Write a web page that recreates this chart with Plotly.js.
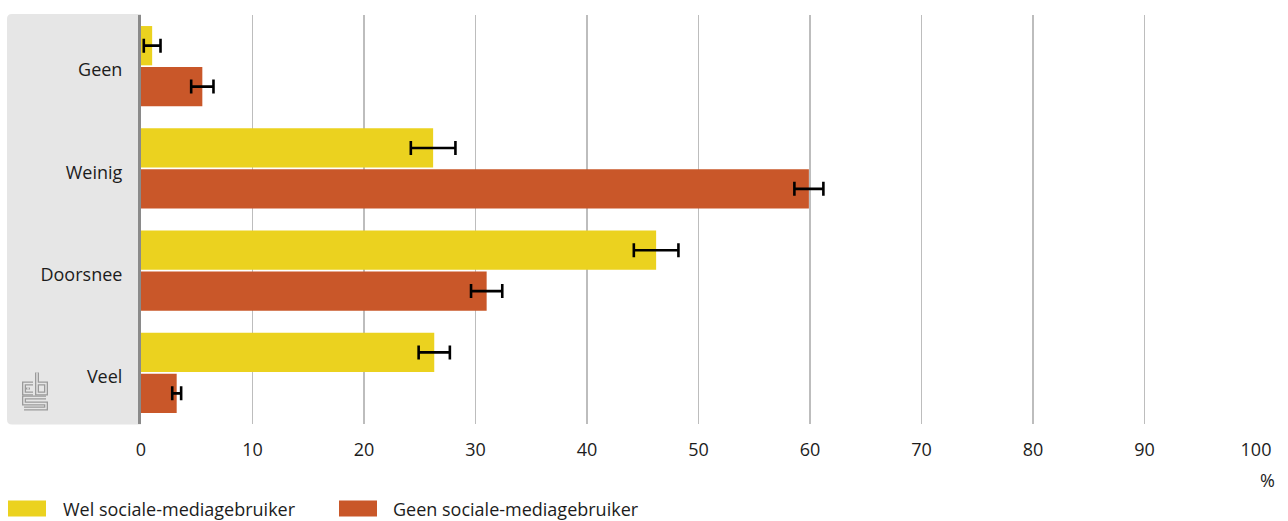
<!DOCTYPE html>
<html>
<head>
<meta charset="utf-8">
<script src="https://cdn.plot.ly/plotly-3.0.1.min.js"></script>
<style>
  html, body { margin: 0; padding: 0; background: #ffffff; }
  #chart { width: 1288px; height: 521px; }
</style>
</head>
<body>
<div id="chart"></div>
<script>
// Mate van ... per groep, in procenten, met betrouwbaarheidsmarges
const categories = ['Geen', 'Weinig', 'Doorsnee', 'Veel'];
const seriesNames = ['Wel sociale-mediagebruiker', 'Geen sociale-mediagebruiker'];
const seriesColors = ['#ebd21f', '#c95729'];
const welValues = [1.0, 26.2, 46.2, 26.3];
const welErrors = [0.75, 2.0, 2.0, 1.4];
const geenValues = [5.5, 59.9, 31.0, 3.2];
const geenErrors = [1.0, 1.3, 1.4, 0.4];
const xTickValues = [0, 10, 20, 30, 40, 50, 60, 70, 80, 90, 100];
const unitLabel = '%';

const W = 1288, H = 521;
const M = { l: 141, r: 32, t: 15, b: 96.5 };
const PW = W - M.l - M.r, PH = H - M.t - M.b;
const FONT = '"Open Sans", "Noto Sans", sans-serif';
const TEXT = '#1c1c1c';
const FS = 18;

// pixel -> paper helpers for decorations outside the plot area
const px = x => (x - M.l) / PW;
const py = y => 1 - (y - M.t) / PH;
const pathFrom = pts => pts.map(p => (p[0] === 'M' ? 'M' : 'L') +
  px(p[1]).toFixed(5) + ',' + py(p[2]).toFixed(5)).join(' ');

function errBar(arr) {
  return { type: 'data', array: arr, visible: true, color: '#000000', thickness: 2.6, width: 7 };
}

const traces = [
  {
    type: 'bar', orientation: 'h', name: seriesNames[0],
    y: categories, x: welValues, error_x: errBar(welErrors),
    marker: { color: seriesColors[0] }, showlegend: false, hoverinfo: 'x+y'
  },
  {
    type: 'bar', orientation: 'h', name: seriesNames[1],
    y: categories, x: geenValues, error_x: errBar(geenErrors),
    marker: { color: seriesColors[1] }, showlegend: false, hoverinfo: 'x+y'
  }
];

const shapes = [];
const annotations = [];

// grey label panel with rounded left corners
const r = 5, pl = 7, pr = 141, pt = 14, pb = 425;
shapes.push({
  type: 'path', xref: 'paper', yref: 'paper', layer: 'below',
  path: 'M' + px(pr) + ',' + py(pt) +
        ' L' + px(pl + r) + ',' + py(pt) +
        ' Q' + px(pl) + ',' + py(pt) + ' ' + px(pl) + ',' + py(pt + r) +
        ' L' + px(pl) + ',' + py(pb - r) +
        ' Q' + px(pl) + ',' + py(pb) + ' ' + px(pl + r) + ',' + py(pb) +
        ' L' + px(pr) + ',' + py(pb) + ' Z',
  fillcolor: '#e6e6e6', line: { width: 0 }
});

// cbs mark drawn as hollow outline strokes
const ox = 23, oy = 373;
const logoPaths = [
  [['M', ox + 10, oy + 11], ['L', ox + 1, oy + 11], ['L', ox + 1, oy + 21], ['L', ox + 10, oy + 21]],
  [['M', ox + 5, oy + 15], ['L', ox + 5, oy + 17]],
  [['M', ox + 14, oy + 0], ['L', ox + 14, oy + 21], ['L', ox + 23, oy + 21], ['L', ox + 23, oy + 11], ['L', ox + 14, oy + 11]],
  [['M', ox + 23, oy + 25], ['L', ox + 1, oy + 25], ['L', ox + 1, oy + 31], ['L', ox + 23, oy + 31], ['L', ox + 23, oy + 36], ['L', ox + 1, oy + 36]]
];
logoPaths.forEach(p => {
  shapes.push({ type: 'path', xref: 'paper', yref: 'paper', path: pathFrom(p),
    line: { color: '#9a9a9a', width: 4 } });
});
logoPaths.forEach(p => {
  shapes.push({ type: 'path', xref: 'paper', yref: 'paper', path: pathFrom(p),
    line: { color: '#e6e6e6', width: 1.4 } });
});

// legend: coloured blocks with labels
const legendItems = [
  { x0: 8, x1: 46, tx: 61 },
  { x0: 339, x1: 377, tx: 391 }
];
legendItems.forEach((it, i) => {
  shapes.push({ type: 'rect', xref: 'paper', yref: 'paper',
    x0: px(it.x0), x1: px(it.x1), y0: py(517), y1: py(501),
    fillcolor: seriesColors[i], line: { width: 0 } });
  annotations.push({ xref: 'paper', yref: 'paper', x: px(it.tx), y: py(510),
    xanchor: 'left', yanchor: 'middle', showarrow: false, text: seriesNames[i],
    font: { family: FONT, size: FS, color: TEXT } });
});

// unit label under the last tick
annotations.push({ xref: 'x', yref: 'paper', x: 100, y: py(481),
  xanchor: 'center', yanchor: 'middle', showarrow: false, text: unitLabel,
  xshift: 11, font: { family: FONT, size: FS, color: TEXT } });

const layout = {
  width: W, height: H,
  margin: M,
  paper_bgcolor: '#ffffff', plot_bgcolor: '#ffffff',
  barmode: 'group', bargap: 0.2, bargroupgap: 0.04,
  font: { family: FONT, size: FS, color: TEXT },
  showlegend: false,
  xaxis: {
    range: [0, 100], tickvals: xTickValues, ticktext: xTickValues.map(String),
    showgrid: true, gridcolor: '#bdbdbd', gridwidth: 1.5,
    zeroline: false, showline: false, ticks: '',
    ticklabelstandoff: 13,
    tickfont: { family: FONT, size: FS, color: TEXT },
    fixedrange: true
  },
  yaxis: {
    type: 'category', categoryorder: 'array', categoryarray: categories,
    range: [3.5, -0.5], showgrid: false, zeroline: false,
    showline: true, linecolor: '#8a8a8a', linewidth: 3,
    ticks: '', ticklabelstandoff: 12, ticklabelshift: -4,
    tickfont: { family: FONT, size: FS, color: TEXT },
    fixedrange: true
  },
  shapes: shapes,
  annotations: annotations
};

Plotly.newPlot('chart', traces, layout, { displayModeBar: false, staticPlot: true });
</script>
</body>
</html>
